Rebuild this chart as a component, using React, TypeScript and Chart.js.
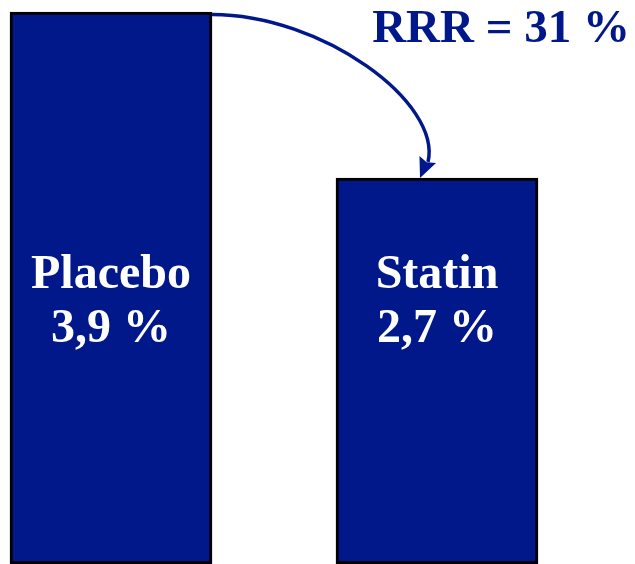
import React, { useEffect, useRef } from "react";
import { Chart, registerables } from "chart.js";

Chart.register(...registerables);

const categories = ["Placebo", "Statin"];
const eventRates = [3.9, 2.7];
const axisMin = -0.09;
const axisMax = 3.9;

const NAVY = "#00188A";

const fmt = (v: number) => v.toFixed(1).replace(".", ",") + " %";

const overlayPlugin = {
  id: "overlay",
  afterDatasetsDraw(chart: any) {
    const ctx = chart.ctx as CanvasRenderingContext2D;
    const meta = chart.getDatasetMeta(0);
    const area = chart.chartArea;
    const bars = meta.data as any[];
    ctx.save();
    // labels inside bars
    ctx.fillStyle = "#FFFFFF";
    ctx.font = "bold 48px 'Liberation Serif'";
    ctx.textAlign = "center";
    ctx.textBaseline = "alphabetic";
    const mid = (area.top + area.bottom) / 2;
    bars.forEach((bar, i) => {
      ctx.fillText(categories[i], bar.x, mid);
      ctx.fillText(fmt(eventRates[i]), bar.x, mid + 54);
    });

    // curved arrow from placebo top to statin top
    const a = bars[0];
    const b = bars[1];
    const sx = a.x + a.width / 2;
    const sy = a.y + 2.5;
    const tx = b.x - 17;
    const ty = b.y;
    const p3x = tx + 8;
    const p3y = ty - 19;
    ctx.strokeStyle = NAVY;
    ctx.fillStyle = NAVY;
    ctx.lineWidth = 3.5;
    ctx.lineCap = "butt";
    ctx.beginPath();
    ctx.moveTo(sx, sy);
    ctx.bezierCurveTo(sx + 110, sy, tx + 22, sy + 88, p3x, p3y + 3);
    ctx.stroke();
    // arrow head
    const dx = tx - p3x;
    const dy = ty - p3y;
    const len = Math.hypot(dx, dy);
    const ux = dx / len;
    const uy = dy / len;
    const headLen = 20;
    const headW = 9;
    const bx = tx - ux * headLen;
    const by = ty - uy * headLen;
    ctx.beginPath();
    ctx.moveTo(tx, ty);
    ctx.lineTo(bx - uy * headW, by + ux * headW);
    ctx.lineTo(bx + ux * 3, by + uy * 3);
    ctx.lineTo(bx + uy * headW, by - ux * headW);
    ctx.closePath();
    ctx.fill();

    // RRR text
    const rrr = Math.round((1 - eventRates[1] / eventRates[0]) * 100);
    ctx.fillStyle = NAVY;
    ctx.font = "bold 47px 'Liberation Serif'";
    ctx.textAlign = "right";
    ctx.fillText(`RRR = ${rrr} %`, chart.width - 5, 42);
    ctx.restore();
  },
};

export default function App() {
  const ref = useRef<HTMLCanvasElement | null>(null);
  useEffect(() => {
    if (!ref.current) return;
    const chart = new Chart(ref.current, {
      type: "bar",
      data: {
        labels: categories,
        datasets: [
          {
            data: eventRates,
            backgroundColor: NAVY,
            borderColor: "#000000",
            borderWidth: 3,
            borderSkipped: false,
            barThickness: 202,
            base: axisMin,
            clip: false,
          } as any,
        ],
      },
      options: {
        animation: false,
        responsive: false,
        layout: { padding: { left: 111, right: 198, top: 12, bottom: 0 } },
        plugins: {
          legend: { display: false },
          tooltip: { enabled: false },
        },
        scales: {
          x: { display: false, offset: false, grid: { display: false } },
          y: { display: false, min: axisMin, max: axisMax, grid: { display: false } },
        },
      },
      plugins: [overlayPlugin],
    });
    return () => chart.destroy();
  }, []);
  return (
    <div style={{ position: "fixed", left: 0, top: 0, width: 635, height: 564 }}>
      <canvas ref={ref} width={635} height={564} />
    </div>
  );
}
